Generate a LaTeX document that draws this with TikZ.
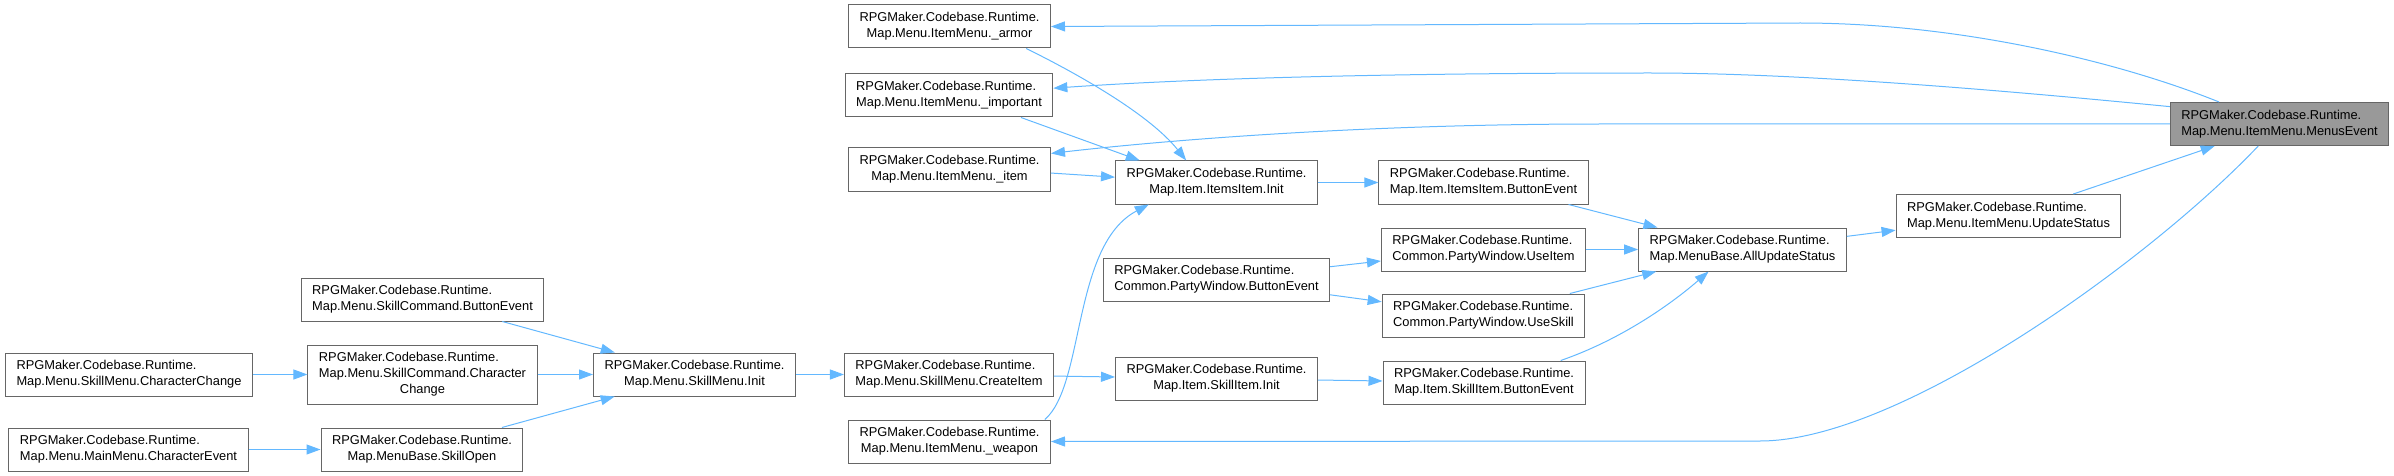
\documentclass[tikz,border=0pt]{standalone}
\usepackage{fontspec}
\setmainfont{Liberation Sans}
\usepackage{tikz}
\usetikzlibrary{arrows.meta}

\definecolor{callblue}{HTML}{63B8FF}
\definecolor{boxgray}{HTML}{666666}
\definecolor{rootgray}{HTML}{999999}

% two- and three-line labels: first lines flush left, last line centred
\newcommand{\fn}[1]{\begin{tabular}{@{}l@{}}RPGMaker.Codebase.Runtime.\\\multicolumn{1}{@{}c@{}}{#1}\end{tabular}}
\newcommand{\fnt}[2]{\begin{tabular}{@{}l@{}}RPGMaker.Codebase.Runtime.\\#1\\\multicolumn{1}{@{}c@{}}{#2}\end{tabular}}

\begin{document}
\begin{tikzpicture}[x=1pt, y=-1pt,
    fnbox/.style={draw=boxgray, fill=white, line width=1pt, inner xsep=11pt, inner ysep=5.5pt,
      font=\fontsize{12.85}{16}\selectfont},
    rootbox/.style={fnbox, fill=rootgray},
    call/.style={draw=callblue, line width=1pt, -{Triangle[length=14pt, width=10pt]}}]
  \useasboundingbox (0,0) rectangle (2394,476);

  % skill menu side
  \node[fnbox] (smchange) at (129,374.5) {\fn{Map.Menu.SkillMenu.CharacterChange}};
  \node[fnbox] (mmevent) at (128.5,449.5) {\fn{Map.Menu.MainMenu.CharacterEvent}};
  \node[fnbox] (scbutton) at (422.5,299.5) {\fn{Map.Menu.SkillCommand.ButtonEvent}};
  \node[fnbox] (scchange) at (422.5,374.5) {\fnt{Map.Menu.SkillCommand.Character}{Change}};
  \node[fnbox] (skillopen) at (422,449.5) {\fn{Map.MenuBase.SkillOpen}};
  \node[fnbox] (sminit) at (694.5,374.5) {\fn{Map.Menu.SkillMenu.Init}};
  \node[fnbox] (createitem) at (949,374.5) {\fn{Map.Menu.SkillMenu.CreateItem}};

  % item menu fields
  \node[fnbox] (armor) at (949.5,26.5) {\fn{Map.Menu.ItemMenu.\_armor}};
  \node[fnbox] (important) at (949,95.5) {\fn{Map.Menu.ItemMenu.\_important}};
  \node[fnbox] (item) at (949.5,169.5) {\fn{Map.Menu.ItemMenu.\_item}};
  \node[fnbox] (weapon) at (949.5,441.5) {\fn{Map.Menu.ItemMenu.\_weapon}};

  \node[fnbox] (itemsinit) at (1216.5,182.5) {\fn{Map.Item.ItemsItem.Init}};
  \node[fnbox] (pwbutton) at (1216.5,279.5) {\fn{Common.PartyWindow.ButtonEvent}};
  \node[fnbox] (skillinit) at (1216.5,378.5) {\fn{Map.Item.SkillItem.Init}};
  \node[fnbox] (itemsbutton) at (1483.5,182.5) {\fn{Map.Item.ItemsItem.ButtonEvent}};
  \node[fnbox] (useitem) at (1483.5,249.5) {\fn{Common.PartyWindow.UseItem}};
  \node[fnbox] (useskill) at (1483.5,315.5) {\fn{Common.PartyWindow.UseSkill}};
  \node[fnbox] (skillbutton) at (1484,382.5) {\fn{Map.Item.SkillItem.ButtonEvent}};
  \node[fnbox] (allupdate) at (1742.5,249.5) {\fn{Map.MenuBase.AllUpdateStatus}};
  \node[fnbox] (updatestatus) at (2008.5,216) {\fn{Map.Menu.ItemMenu.UpdateStatus}};
  \node[rootbox] (menus) at (2279.5,124) {\fn{Map.Menu.ItemMenu.MenusEvent}};

  % calls
  \draw[call] (smchange) -- (scchange);
  \draw[call] (mmevent) -- (skillopen);
  \draw[call] (scbutton) -- (sminit);
  \draw[call] (scchange) -- (sminit);
  \draw[call] (skillopen) -- (sminit);
  \draw[call] (sminit) -- (createitem);
  \draw[call] (createitem) -- (skillinit);
  \draw[call] (skillinit) -- (skillbutton);
  \draw[call] (armor.-16) .. controls (1080,75) and (1150,115) .. (itemsinit.144);
  \draw[call] (important.-17) -- (itemsinit.164);
  \draw[call] (item.-2.5) -- (itemsinit.177);
  \draw[call] (weapon.13) .. controls (1085,385) and (1072,245) .. (itemsinit.198);
  \draw[call] (itemsinit) -- (itemsbutton);
  \draw[call] (pwbutton) -- (useitem);
  \draw[call] (pwbutton) -- (useskill);
  \draw[call] (itemsbutton) -- (allupdate);
  \draw[call] (useitem) -- (allupdate);
  \draw[call] (useskill) -- (allupdate);
  \draw[call] (skillbutton.16) .. controls (1620,340) and (1670,305) .. (allupdate.213);
  \draw[call] (allupdate) -- (updatestatus);
  \draw[call] (updatestatus) -- (menus);
  \draw[call] (menus.160) .. controls (2120,62) and (1960,23) .. (1800,23) -- (armor.east);
  \draw[call] (menus.171) .. controls (2000,90) and (1800,73) .. (1650,73)
    .. controls (1400,73) and (1200,78) .. (important.4);
  \draw[call] (menus.west) -- (1600,124) .. controls (1350,124) and (1150,142) .. (item.9);
  \draw[call] (menus.226) .. controls (2150,260) and (1900,441) .. (1760,441) -- (weapon.east);
\end{tikzpicture}
\end{document}
